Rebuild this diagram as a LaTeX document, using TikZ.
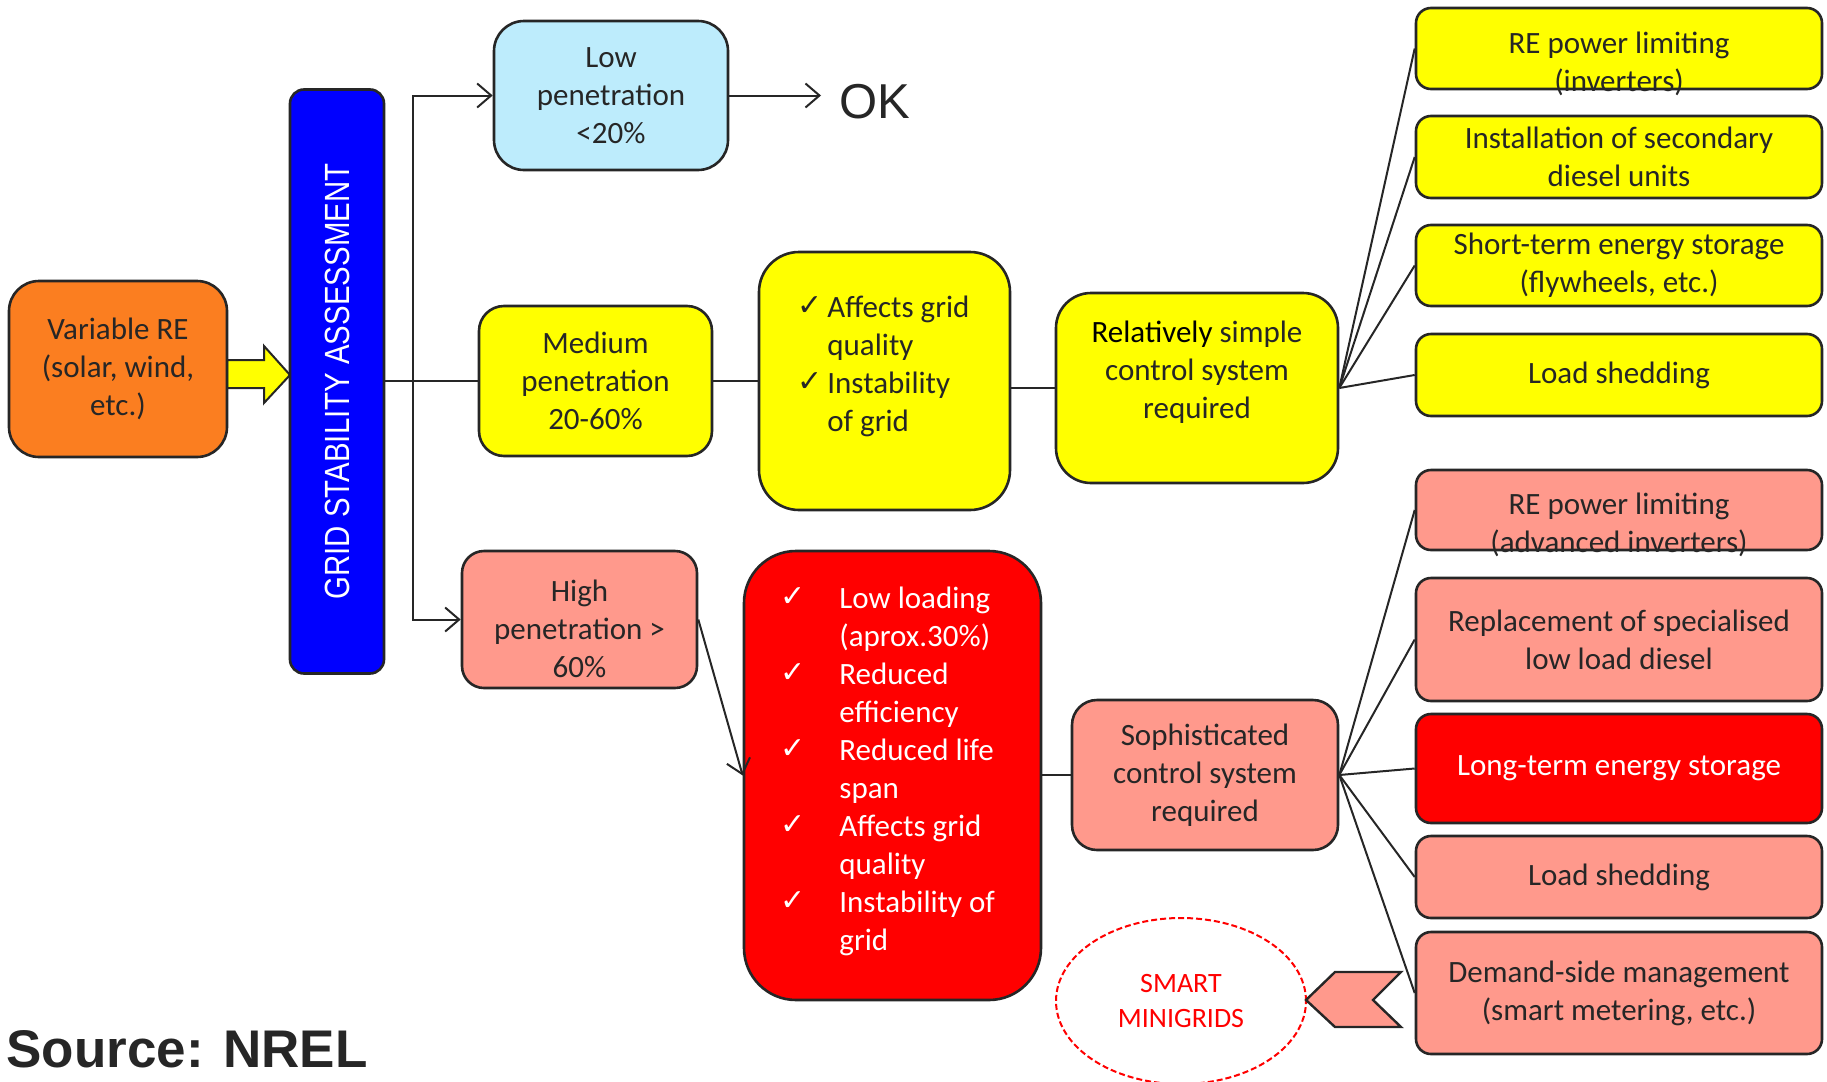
\documentclass[tikz,border=0pt]{standalone}
\usepackage{graphicx}
\usepackage{fontspec}
\setmainfont{Carlito}
\newfontfamily\arialfont{Liberation Sans}
\newfontfamily\chkfont{DejaVu Sans}
\usetikzlibrary{arrows.meta,shapes.geometric}

\definecolor{inkgray}{RGB}{38,38,38}
\definecolor{reorange}{RGB}{251,126,32}
\definecolor{barblue}{RGB}{0,0,255}
\definecolor{lowblue}{RGB}{189,236,252}
\definecolor{medyellow}{RGB}{255,255,0}
\definecolor{highpink}{RGB}{255,153,140}
\definecolor{highred}{RGB}{255,0,0}

\newcommand{\bodyfont}{\fontsize{15.5pt}{19pt}\selectfont}
\newcommand{\ck}[1]{\makebox[#1][l]{\raisebox{1pt}{\chkfont\fontsize{15pt}{15pt}\selectfont ✓}}}
\newcommand{\nock}[1]{\makebox[#1]{}}

\begin{document}
\begin{tikzpicture}[x=0.5pt,y=-0.5pt,
    box/.style={draw=inkgray,line width=1.3pt,inner sep=1pt,align=center,text=inkgray,font=\bodyfont},
    txt/.style={inner sep=0pt,align=center,text=inkgray,font=\bodyfont},
    link/.style={draw=inkgray,line width=1pt},
    >={Straight Barb[length=7pt,width=12pt]}]

  \useasboundingbox (0,0) rectangle (1827,1082);

  \draw[fill=medyellow,draw=inkgray,line width=1pt] (227,360) -- (264,360) -- (264,346) -- (290,375)
    -- (264,403) -- (264,388) -- (227,388) -- cycle;

  \begin{scope}[every node/.style={box}]
    \node[fill=reorange,rounded corners=15pt,minimum width=109pt,minimum height=88pt] (vre) at (118,369) {Variable RE\\(solar, wind,\\etc.)};
    \node[fill=barblue,rounded corners=7pt,minimum width=47pt,minimum height=292pt] (gsa) at (337,381.5) {};
    \node[fill=lowblue,rounded corners=15pt,minimum width=117pt,minimum height=74.5pt] (low) at (611,95.5) {Low\\penetration\\<20\%};
    \node[fill=medyellow,rounded corners=12.5pt,minimum width=116.5pt,minimum height=75pt] (med) at (595.5,381) {Medium\\penetration\\20-60\%};
    \node[fill=highpink,rounded corners=11pt,minimum width=117.5pt,minimum height=68.5pt] (high) at (579.5,619.5) {};
    \node[fill=medyellow,rounded corners=20pt,minimum width=125.5pt,minimum height=129pt] (aff) at (884.5,381) {};
    \node[fill=highred,rounded corners=26pt,minimum width=148.5pt,minimum height=224.5pt] (effects) at (892.5,775.5) {};
    \node[fill=medyellow,rounded corners=17.5pt,minimum width=141pt,minimum height=95pt] (rel) at (1197,388) {};
    \node[fill=highpink,rounded corners=12.5pt,minimum width=133pt,minimum height=75pt] (soph) at (1205,775) {Sophisticated\\control system\\required};
  \end{scope}

  \begin{scope}[every node/.style={box,minimum width=203pt,rounded corners=7.5pt}]
    \node[fill=medyellow,minimum height=40.5pt] (relim) at (1619,48.5) {};
    \node[fill=medyellow,minimum height=41pt] (secdie) at (1619,157) {Installation of secondary\\diesel units};
    \node[fill=medyellow,minimum height=40.5pt] (shortst) at (1619,265.5) {Short-term energy storage\\(flywheels, etc.)};
    \node[fill=medyellow,minimum height=41pt] (ldshed) at (1619,375) {Load shedding};
    \node[fill=highpink,minimum height=40pt] (advlim) at (1619,510) {};
    \node[fill=highpink,minimum height=61.5pt] (replace) at (1619,639.5) {Replacement of specialised\\low load diesel};
    \node[fill=highred,minimum height=54.5pt,text=white] (longst) at (1619,768.5) {Long-term energy storage};
    \node[fill=highpink,minimum height=41pt] (ldshedb) at (1619,877) {Load shedding};
    \node[fill=highpink,minimum height=61pt] (dsm) at (1619,993) {Demand-side management\\(smart metering, etc.)};
  \end{scope}

  \node[rotate=90,inner sep=0pt,text=white,font=\arialfont\fontsize{14.7pt}{17pt}\selectfont] (gsatxt) at (gsa.center) {\scalebox{1}[1.19]{GRID STABILITY ASSESSMENT}};
  \node[txt] (hightxt) at ([shift={(0,9)}]high.center) {High\\penetration >\\60\%};
  \node[txt] (reltxt) at ([shift={(0,-16)}]rel.center) {\textcolor{black}{Relatively} simple\\control system\\required};
  \node[txt] (relimtxt) at ([shift={(0,15)}]relim.center) {RE power limiting\\(inverters)};
  \node[txt] (advlimtxt) at ([shift={(0,15)}]advlim.center) {RE power limiting\\(advanced inverters)};
  \node[txt,align=left,anchor=west] (afftxt) at (797,366) {\ck{15pt}Affects grid\\\nock{15pt}quality\\\ck{15pt}Instability\\\nock{15pt}of grid};
  \node[txt,align=left,anchor=west,text=white] (effectstxt) at (780,771) {\ck{29.5pt}Low loading\\\nock{29.5pt}(aprox.30\%)\\\ck{29.5pt}Reduced\\\nock{29.5pt}efficiency\\\ck{29.5pt}Reduced life\\\nock{29.5pt}span\\\ck{29.5pt}Affects grid\\\nock{29.5pt}quality\\\ck{29.5pt}Instability of\\\nock{29.5pt}grid};

  \node[inner sep=0pt,text=inkgray,font=\arialfont\fontsize{24.5pt}{28pt}\selectfont] (ok) at (875,102) {OK};
  \coordinate (okin) at (821,95.5);
  \coordinate (split) at (413,381);

  \draw[link] (gsa.east |- med.west) -- (med.west);
  \draw[link,->] (split) |- (low.west);
  \draw[link,->] (split) |- (high.west);
  \draw[link,->] (low.east) -- (okin);
  \draw[link] (med.east) -- (aff.west);
  \draw[link] (aff.east |- rel.west) -- (rel.west);
  \draw[link,->] (high.east) -- (effects.west);
  \draw[link] (effects.east |- soph.west) -- (soph.west);

  \begin{scope}[every edge/.style={link}]
    \path (rel.east) edge (relim.west) edge (secdie.west) edge (shortst.west) edge (ldshed.west);
    \path (soph.east) edge (advlim.west) edge (replace.west) edge (longst.west) edge (ldshedb.west) edge (dsm.west);
  \end{scope}

  \node[ellipse,draw=red,line width=1pt,dash pattern=on 3pt off 1.5pt,fill=white,minimum width=125pt,minimum height=83pt,
    text=red,align=center,font=\fontsize{14pt}{17.5pt}\selectfont] (smart) at (1181,1001) {SMART\\MINIGRIDS};
  \draw[fill=highpink,draw=inkgray,line width=1.2pt] (1401,972) -- (1373,1000) -- (1401,1027) -- (1335,1027)
    -- (1306,1000) -- (1335,972) -- cycle;

  \node[anchor=base west,inner sep=0pt,text=inkgray,font=\arialfont\bfseries\fontsize{26.5pt}{30pt}\selectfont] (src) at (6,1067) {Source: NREL};

\end{tikzpicture}
\end{document}
